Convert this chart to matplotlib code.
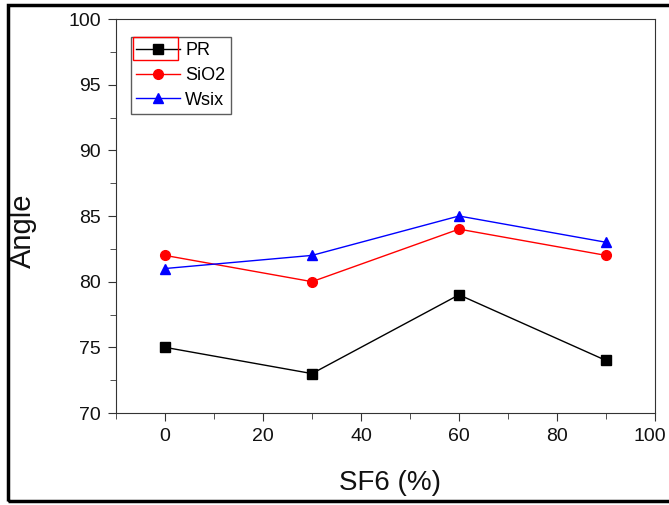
import matplotlib
matplotlib.use("Agg")
import matplotlib.pyplot as plt
from matplotlib.patches import Rectangle
from matplotlib.ticker import MultipleLocator
from matplotlib.transforms import ScaledTranslation

plt.rcParams['font.family'] = ['Liberation Sans', 'DejaVu Sans']

sf6 = [0, 30, 60, 90]
pr = [75, 73, 79, 74]
sio2 = [82, 80, 84, 82]
wsix = [81, 82, 85, 83]

fig = plt.figure(figsize=(6.69, 5.05), dpi=100)
W, H = 669, 505
ax = fig.add_axes([116 / W, 1 - 413 / H, (655 - 116) / W, (413 - 19) / H])

ax.plot(sf6, pr, color='black', marker='s', markersize=6.5, linewidth=1, label='PR')
ax.plot(sf6, sio2, color='red', marker='o', markersize=7, linewidth=1, label='SiO2')
ax.plot(sf6, wsix, color='blue', marker='^', markersize=7.5, linewidth=1, label='Wsix')

ax.set_xlim(-10, 100)
ax.set_ylim(70, 100)
ax.xaxis.set_major_locator(MultipleLocator(20))
ax.xaxis.set_minor_locator(MultipleLocator(10))
ax.yaxis.set_major_locator(MultipleLocator(5))
ax.yaxis.set_minor_locator(MultipleLocator(2.5))
ax.tick_params(which='both', direction='out', top=False, right=False, labelsize=14,
               color='#333333', labelcolor='#111111')
ax.tick_params(which='major', length=6, pad=5)
ax.tick_params(which='minor', length=4)
ax.set_xticks([0, 20, 40, 60, 80, 100])
for s in ax.spines.values():
    s.set_color('#333333')

# keep the last x tick label inside the figure edge
fig.canvas.draw()
last = ax.get_xticklabels()[-1]
last.set_transform(last.get_transform() + ScaledTranslation(-5 / 100, 0, fig.dpi_scale_trans))

fig.text(390 / W, 1 - 490 / H, 'SF6 (%)', fontsize=20, ha='center', va='baseline',
         color='#111111')
fig.text(23 / W, 1 - 231 / H, 'Angle', fontsize=21, ha='center', va='center',
         rotation=90, color='#111111')

leg = ax.legend(loc='upper left', bbox_to_anchor=(131 / W, 1 - 37 / H),
                bbox_transform=fig.transFigure, fontsize=13,
                frameon=True, fancybox=False, edgecolor='#333333',
                borderpad=0.3, labelspacing=0.42, handlelength=2.4,
                handletextpad=0.3, borderaxespad=0)
leg.get_frame().set_linewidth(1.0)

# red highlight box around the first legend entry
fig.patches.append(Rectangle((133 / W, 1 - 60 / H), (178 - 133) / W, (60 - 37) / H,
                             transform=fig.transFigure, fill=False,
                             edgecolor='red', linewidth=1, zorder=10))

# outer figure border
fig.patches.append(Rectangle((8 / W, 1 - 501 / H), (700 - 8) / W, (501 - 5) / H,
                             transform=fig.transFigure, fill=False,
                             edgecolor='black', linewidth=2.5, zorder=10))

fig.savefig('out.png', dpi=100)
